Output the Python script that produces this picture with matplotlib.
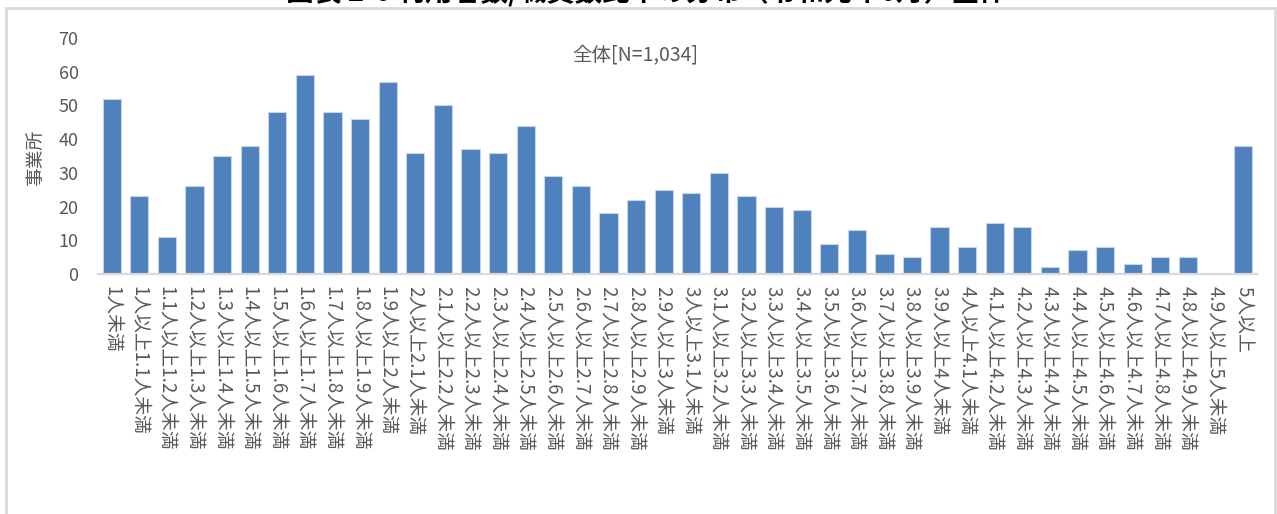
import matplotlib
matplotlib.use("Agg")
import matplotlib.pyplot as plt
from matplotlib.patches import Rectangle

plt.rcParams['font.family'] = ['Noto Sans CJK JP', 'DejaVu Sans']

# Staff ratio bins (users per staff member)
categories = [
    "1人未満",
    "1人以上1.1人未満", "1.1人以上1.2人未満", "1.2人以上1.3人未満", "1.3人以上1.4人未満",
    "1.4人以上1.5人未満", "1.5人以上1.6人未満", "1.6人以上1.7人未満", "1.7人以上1.8人未満",
    "1.8人以上1.9人未満", "1.9人以上2人未満",
    "2人以上2.1人未満", "2.1人以上2.2人未満", "2.2人以上2.3人未満", "2.3人以上2.4人未満",
    "2.4人以上2.5人未満", "2.5人以上2.6人未満", "2.6人以上2.7人未満", "2.7人以上2.8人未満",
    "2.8人以上2.9人未満", "2.9人以上3人未満",
    "3人以上3.1人未満", "3.1人以上3.2人未満", "3.2人以上3.3人未満", "3.3人以上3.4人未満",
    "3.4人以上3.5人未満", "3.5人以上3.6人未満", "3.6人以上3.7人未満", "3.7人以上3.8人未満",
    "3.8人以上3.9人未満", "3.9人以上4人未満",
    "4人以上4.1人未満", "4.1人以上4.2人未満", "4.2人以上4.3人未満", "4.3人以上4.4人未満",
    "4.4人以上4.5人未満", "4.5人以上4.6人未満", "4.6人以上4.7人未満", "4.7人以上4.8人未満",
    "4.8人以上4.9人未満", "4.9人以上5人未満",
    "5人以上",
]

# Number of facilities in each bin (total 1,034)
counts = [
    52,
    23, 11, 26, 35, 38, 48, 59, 48, 46, 57,
    36, 50, 37, 36, 44, 29, 26, 18, 22, 25,
    24, 30, 23, 20, 19, 9, 13, 6, 5, 14,
    8, 15, 14, 2, 7, 8, 3, 5, 5, 0,
    38,
]

y_ticks = [0, 10, 20, 30, 40, 50, 60, 70]

chart_title = "全体[N=1,034]"
y_label = "事業所"
header = "図表 2-6 利用者数/職員数比率の分布（令和元年6月）全体"

gray_text = "#595959"
bar_color = "#4F81BD"
line_gray = "#D9D9D9"

fig = plt.figure(figsize=(12.77, 5.14), dpi=100)
ax = fig.add_axes([0.0767, 0.467, 0.9076, 0.459])

x = range(len(categories))
ax.bar(x, counts, width=0.66, color=bar_color, edgecolor="#C6D6EA", linewidth=0.8)

ax.set_xlim(-0.5, len(categories) - 0.5)
ax.set_ylim(0, 70)
ax.set_yticks(y_ticks)
ax.set_yticklabels([str(v) for v in y_ticks], color=gray_text, fontsize=13)
ax.set_xticks(list(x))
ax.set_xticklabels(categories, rotation=270, color=gray_text, fontsize=13.5,
                   va="top", ha="center", rotation_mode="default")

ax.tick_params(axis="both", length=0)
ax.tick_params(axis="y", pad=14)
ax.tick_params(axis="x", pad=9)

for side in ("top", "right", "left"):
    ax.spines[side].set_visible(False)
ax.spines["bottom"].set_color(line_gray)
ax.spines["bottom"].set_linewidth(1.6)

ax.set_ylabel(y_label, color=gray_text, fontsize=13.5)
ax.yaxis.set_label_coords(-0.045, 0.49)

ax.text(0.464, 0.927, chart_title, transform=ax.transAxes, ha="center", va="center",
        color=gray_text, fontsize=14)

# Chart frame
fig.patches.append(Rectangle((6 / 1277, -0.05), 1269 / 1277, 1.05 - 8 / 514,
                             transform=fig.transFigure, fill=False,
                             edgecolor=line_gray, linewidth=2, zorder=0))

# Header sitting above the frame
fig.text(0.506, 0.987, header, ha="center", va="bottom", fontsize=20,
         fontweight="bold", color="black")

fig.savefig("out.png", dpi=100, facecolor="white")
